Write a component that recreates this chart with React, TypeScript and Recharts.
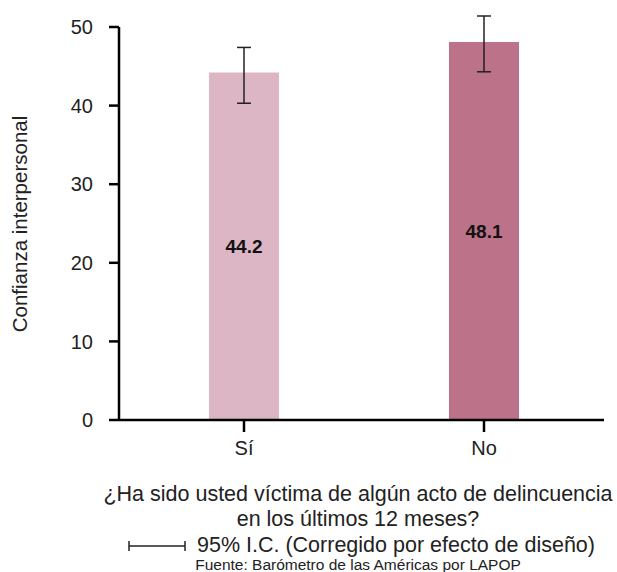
import React from 'react';
import { BarChart, Bar, XAxis, YAxis, ErrorBar, LabelList, Cell } from 'recharts';

const categories = ['Sí', 'No'];
const means = [44.2, 48.1];
const lowerCI = [40.3, 44.3];
const upperCI = [47.4, 51.4];
const barColors = ['#dcb6c4', '#bc7288'];
const yTicks = [0, 10, 20, 30, 40, 50];

const FONT = '"Liberation Sans", Arial, sans-serif';
const TEXT = '#222';

const data = categories.map((c, i) => ({
  name: c,
  value: means[i],
  ci: [means[i] - lowerCI[i], upperCI[i] - means[i]],
}));

const App: React.FC = () => {
  return (
    <div style={{ position: 'absolute', left: 0, top: 0, width: 617, height: 572, fontFamily: FONT, color: TEXT, background: '#fff' }}>
      <BarChart
        width={617}
        height={572}
        data={data}
        margin={{ top: 27, right: 13, left: 59, bottom: 122 }}
      >
        <XAxis
          dataKey="name"
          padding={{ left: 5, right: 0 }}
          axisLine={{ stroke: '#000', strokeWidth: 2.5 }}
          tickLine={{ stroke: '#000', strokeWidth: 2.5 }}
          tickSize={12}
          tickMargin={9}
          tick={{ fontSize: 20, fill: TEXT, fontFamily: FONT }}
        />
        <YAxis
          width={60}
          domain={[0, 50]}
          allowDataOverflow
          ticks={yTicks}
          axisLine={{ stroke: '#000', strokeWidth: 2.5 }}
          tickLine={{ stroke: '#000', strokeWidth: 2.5 }}
          tickSize={10}
          tickMargin={16}
          tick={{ fontSize: 20, fill: TEXT, fontFamily: FONT }}
        />
        <Bar dataKey="value" barSize={70} isAnimationActive={false}>
          {data.map((d, i) => (
            <Cell key={d.name} fill={barColors[i]} />
          ))}
          <LabelList
            dataKey="value"
            position="center"
            formatter={(v: any) => Number(v).toFixed(1)}
            style={{ fontSize: 19, fontWeight: 'bold', fill: '#111', fontFamily: FONT }}
          />
          <ErrorBar dataKey="ci" width={7} stroke="#222" strokeWidth={1.5} direction="y" />
        </Bar>
      </BarChart>

      <div style={{ position: 'absolute', left: 20, top: 224, width: 0, height: 0 }}>
        <div
          style={{
            position: 'absolute', transform: 'translate(-50%, -50%) rotate(-90deg)',
            whiteSpace: 'nowrap', fontSize: 20.5, left: 0, top: 0,
          }}
        >
          Confianza interpersonal
        </div>
      </div>

      <div style={{ position: 'absolute', left: 58, width: 600, top: 482, textAlign: 'center', fontSize: 21.5, lineHeight: '25px' }}>
        ¿Ha sido usted víctima de algún acto de delincuencia
        <br />
        en los últimos 12 meses?
      </div>
      <div style={{ position: 'absolute', left: 128, top: 533, fontSize: 21.5, lineHeight: '25px', whiteSpace: 'nowrap', display: 'flex', alignItems: 'center' }}>
        <svg width={58} height={14} style={{ marginRight: 11 }}>
          <line x1={1} y1={2} x2={1} y2={12} stroke="#222" strokeWidth={1.5} />
          <line x1={1} y1={7} x2={57} y2={7} stroke="#222" strokeWidth={1.5} />
          <line x1={57} y1={2} x2={57} y2={12} stroke="#222" strokeWidth={1.5} />
        </svg>
        95% I.C. (Corregido por efecto de diseño)
      </div>
      <div style={{ position: 'absolute', left: 58, width: 600, top: 557, textAlign: 'center', fontSize: 15.5, lineHeight: '16px' }}>
        Fuente: Barómetro de las Américas por LAPOP
      </div>
    </div>
  );
};

export default App;
